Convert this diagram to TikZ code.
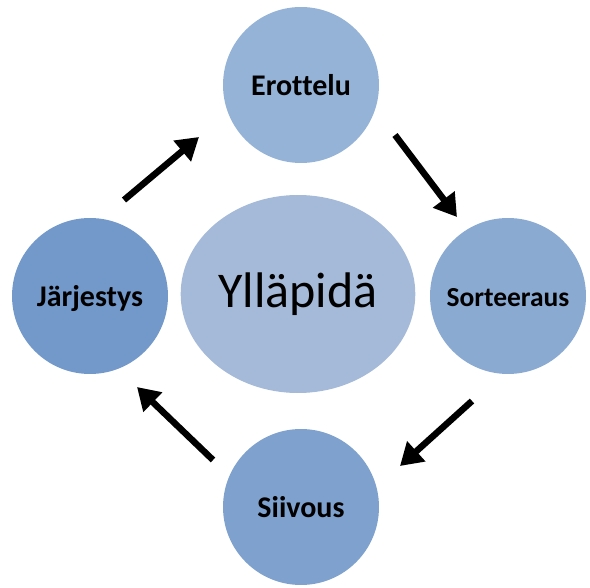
\documentclass[tikz,border=0pt]{standalone}
\usepackage{fontspec}
\setmainfont{Carlito}[Ligatures=NoCommon]
\usepackage{xcolor}
\usepackage{tikz}
\usetikzlibrary{positioning,arrows.meta,shapes.geometric}

\definecolor{erotkleur}{HTML}{95B3D7}
\definecolor{sortkleur}{HTML}{8AAAD2}
\definecolor{siivkleur}{HTML}{7EA1CD}
\definecolor{jarjkleur}{HTML}{7399CA}
\definecolor{middenkleur}{HTML}{A5BAD8}

\begin{document}
\begin{tikzpicture}[x=1pt, y=-1pt,
    cirkel/.style={circle, minimum size=156pt, inner sep=0pt, text height=21pt, text depth=0pt, font=\fontsize{30}{32}\selectfont\bfseries},
    pijl/.style={-{Triangle[length=22pt, width=26pt]}, line width=6.5pt, black}]
    \useasboundingbox (0,0) rectangle (590,588);

    % Midden
    \node[ellipse, fill=middenkleur, minimum width=234pt, minimum height=198pt, font=\fontsize{50}{52}\selectfont] (midden) at (298,294) {Ylläpidä};

    % Cirkels
    \node[cirkel, fill=erotkleur] (erottelu) at (301,85) {Erottelu};
    \node[cirkel, fill=sortkleur, font=\fontsize{27.5}{29}\selectfont\bfseries] (sorteeraus) at (508,296) {Sorteeraus};
    \node[cirkel, fill=siivkleur] (siivous) at (301,507) {Siivous};
    \node[cirkel, fill=jarjkleur] (jarjestys) at (90,296) {Järjestys};

    % Pijlen
    \coordinate (p1a) at (124,200);
    \coordinate (p1b) at (199,137);
    \coordinate (p2a) at (395,135);
    \coordinate (p2b) at (457,217);
    \coordinate (p3a) at (472,401);
    \coordinate (p3b) at (400,466);
    \coordinate (p4a) at (213,460);
    \coordinate (p4b) at (137,387);
    \draw[pijl] (p1a) -- (p1b);
    \draw[pijl] (p2a) -- (p2b);
    \draw[pijl] (p3a) -- (p3b);
    \draw[pijl] (p4a) -- (p4b);
\end{tikzpicture}
\end{document}
